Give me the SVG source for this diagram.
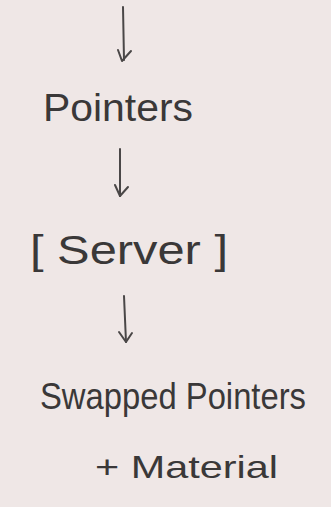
<svg xmlns="http://www.w3.org/2000/svg" width="331" height="507" viewBox="0 0 331 507">
<style>
.t{font-family:"Liberation Sans",Arial,sans-serif;fill:#3a3838;font-size:38px}
.c{fill:none;stroke:#4a4747;stroke-width:2;stroke-linecap:round;stroke-linejoin:round}
</style>
<rect width="331" height="507" fill="#efe7e6"/>
<g id="connectors">
<path class="c" d="M123 7 L124 60"/><path class="c" d="M118 50 L122 61 L131 51"/>
<path class="c" d="M120 149 L120 196"/><path class="c" d="M115 185 L120 196 L128 187"/>
<path class="c" d="M124 296 L126 342"/><path class="c" d="M119 332 L126 342 L132 333"/>
</g>
<g id="pointers"><text class="t" x="43" y="121" textLength="150" lengthAdjust="spacingAndGlyphs">Pointers</text></g>
<g id="server"><text class="t" x="30" y="264" textLength="198" lengthAdjust="spacingAndGlyphs" style="font-size:40px">[ Server ]</text></g>
<g id="swapped"><text class="t" x="40" y="409" textLength="266" lengthAdjust="spacingAndGlyphs" style="font-size:36px">Swapped Pointers</text>
<text class="t" x="95" y="478" textLength="183" lengthAdjust="spacingAndGlyphs" style="font-size:32px">+ Material</text></g>
</svg>
